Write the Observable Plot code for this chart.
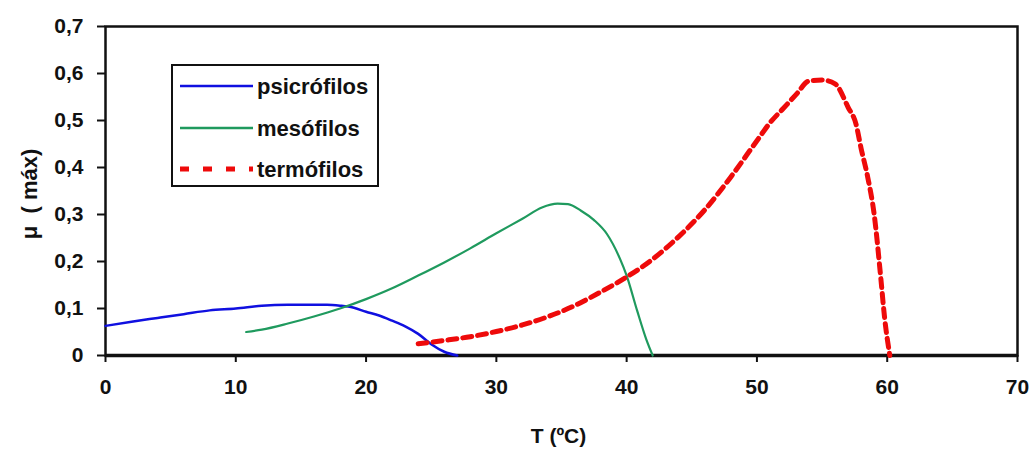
<!DOCTYPE html>
<html>
<head>
<meta charset="utf-8">
<script src="https://cdn.jsdelivr.net/npm/d3@7"></script>
<script src="https://cdn.jsdelivr.net/npm/@observablehq/plot@0.6"></script>
<style>
  html, body { margin: 0; padding: 0; background: #fff; }
  #wrap { position: relative; width: 1034px; height: 449px; }
  #legend { position: absolute; left: 171px; top: 64px; }
</style>
</head>
<body>
<div id="wrap"></div>
<script>
// ---- data ----
const seriesNames = ["psicrófilos", "mesófilos", "termófilos"];

const psiT  = [0, 2, 4, 6, 8, 10, 12, 14, 17, 18, 19, 20, 21, 22, 23, 24, 25, 26, 27];
const psiMu = [0.063, 0.072, 0.080, 0.088, 0.096, 0.100, 0.106, 0.108, 0.108, 0.106, 0.102, 0.093, 0.085, 0.074, 0.062, 0.046, 0.024, 0.008, 0];

const mesT  = [10.8, 12, 14, 16, 18, 20, 22, 24, 26, 28, 30, 32, 33.5, 34.7, 35.5, 36.5, 37.5, 38.5, 39.5, 40, 40.8, 41.5, 42];
const mesMu = [0.050, 0.055, 0.068, 0.083, 0.100, 0.120, 0.143, 0.170, 0.198, 0.228, 0.260, 0.291, 0.315, 0.323, 0.322, 0.308, 0.288, 0.258, 0.205, 0.170, 0.096, 0.035, 0];

const terT  = [24, 26, 28, 30, 32, 34, 36, 38, 40, 42, 44, 46, 48, 50, 51, 52, 53, 54, 55, 56, 57, 57.6, 58, 58.5, 59, 59.5, 59.8, 60.2];
const terMu = [0.025, 0.032, 0.040, 0.051, 0.065, 0.083, 0.106, 0.135, 0.167, 0.205, 0.253, 0.310, 0.380, 0.457, 0.495, 0.525, 0.555, 0.584, 0.586, 0.578, 0.528, 0.493, 0.440, 0.380, 0.300, 0.167, 0.080, 0];

const xTicks = [0, 10, 20, 30, 40, 50, 60, 70];
const yTicks = [0, 0.1, 0.2, 0.3, 0.4, 0.5, 0.6, 0.7];
const xLabel = "T (ºC)";
const yLabel = "μ  ( máx)";

const colors = ["#1010e0", "#1f9a5e", "#ee0a0a"];

const toRows = (T, M) => T.map((t, i) => ({t, mu: M[i]}));
const psi = toRows(psiT, psiMu);
const mes = toRows(mesT, mesMu);
const ter = toRows(terT, terMu);

const fmt = d => d === 0 ? "0" : d.toFixed(1).replace(".", ",");
const font = "'Liberation Sans', Arial, sans-serif";

const chart = Plot.plot({
  width: 1034,
  height: 449,
  marginLeft: 105,
  marginRight: 17,
  marginTop: 26,
  marginBottom: 94,
  style: {fontFamily: font, fontSize: "21px", fontWeight: "bold", color: "#111", background: "#fff"},
  x: {domain: [0, 70], ticks: xTicks},
  y: {domain: [0, 0.7], ticks: yTicks},
  marks: [
    Plot.frame({stroke: "#111", strokeWidth: 2.5}),
    Plot.axisX({ticks: xTicks, tickSize: 7, tickPadding: 17, tickFormat: d => String(d), label: null, strokeWidth: 2}),
    Plot.axisY({ticks: yTicks, tickSize: 8, tickPadding: 14, tickFormat: fmt, label: null, strokeWidth: 2}),
    Plot.ruleY([0], {stroke: "#111", strokeWidth: 3.5}),
    Plot.line(psi, {x: "t", y: "mu", stroke: colors[0], strokeWidth: 2.5, curve: "monotone-x"}),
    Plot.line(mes, {x: "t", y: "mu", stroke: colors[1], strokeWidth: 2.2, curve: "monotone-x"}),
    Plot.line(ter, {x: "t", y: "mu", stroke: colors[2], strokeWidth: 5, strokeDasharray: "9,6", curve: "monotone-x"}),
    Plot.text([xLabel], {frameAnchor: "bottom", dy: 81, dx: -3, text: d => d, lineAnchor: "middle", textAnchor: "middle", fontSize: 21, fontWeight: "bold"}),
    Plot.text([yLabel], {frameAnchor: "left", dx: -76, dy: 3, rotate: -90, text: d => d, lineAnchor: "middle", textAnchor: "middle", fontSize: 22, fontWeight: "bold"})
  ]
});

const wrap = document.getElementById("wrap");
wrap.appendChild(chart);

// legend overlay
const W = 208, H = 123;
const lg = d3.create("svg").attr("id", "legend").attr("width", W).attr("height", H)
  .style("font-family", font).style("font-size", "22px").style("font-weight", "bold");
lg.append("rect").attr("x", 1).attr("y", 1).attr("width", W - 2).attr("height", H - 2)
  .attr("fill", "#fff").attr("stroke", "#111").attr("stroke-width", 2);
const rowsY = [22, 64, 105];
const widths = [2.5, 2.5, 5];
const dashes = [null, null, "9,14"];
seriesNames.forEach((name, i) => {
  const ln = lg.append("line").attr("x1", 9).attr("x2", 82).attr("y1", rowsY[i]).attr("y2", rowsY[i])
    .attr("stroke", colors[i]).attr("stroke-width", widths[i]);
  if (dashes[i]) ln.attr("stroke-dasharray", dashes[i]);
  lg.append("text").attr("x", 86).attr("y", rowsY[i]).attr("dy", "0.35em").attr("fill", "#111").text(name);
});
wrap.appendChild(lg.node());
</script>
</body>
</html>
